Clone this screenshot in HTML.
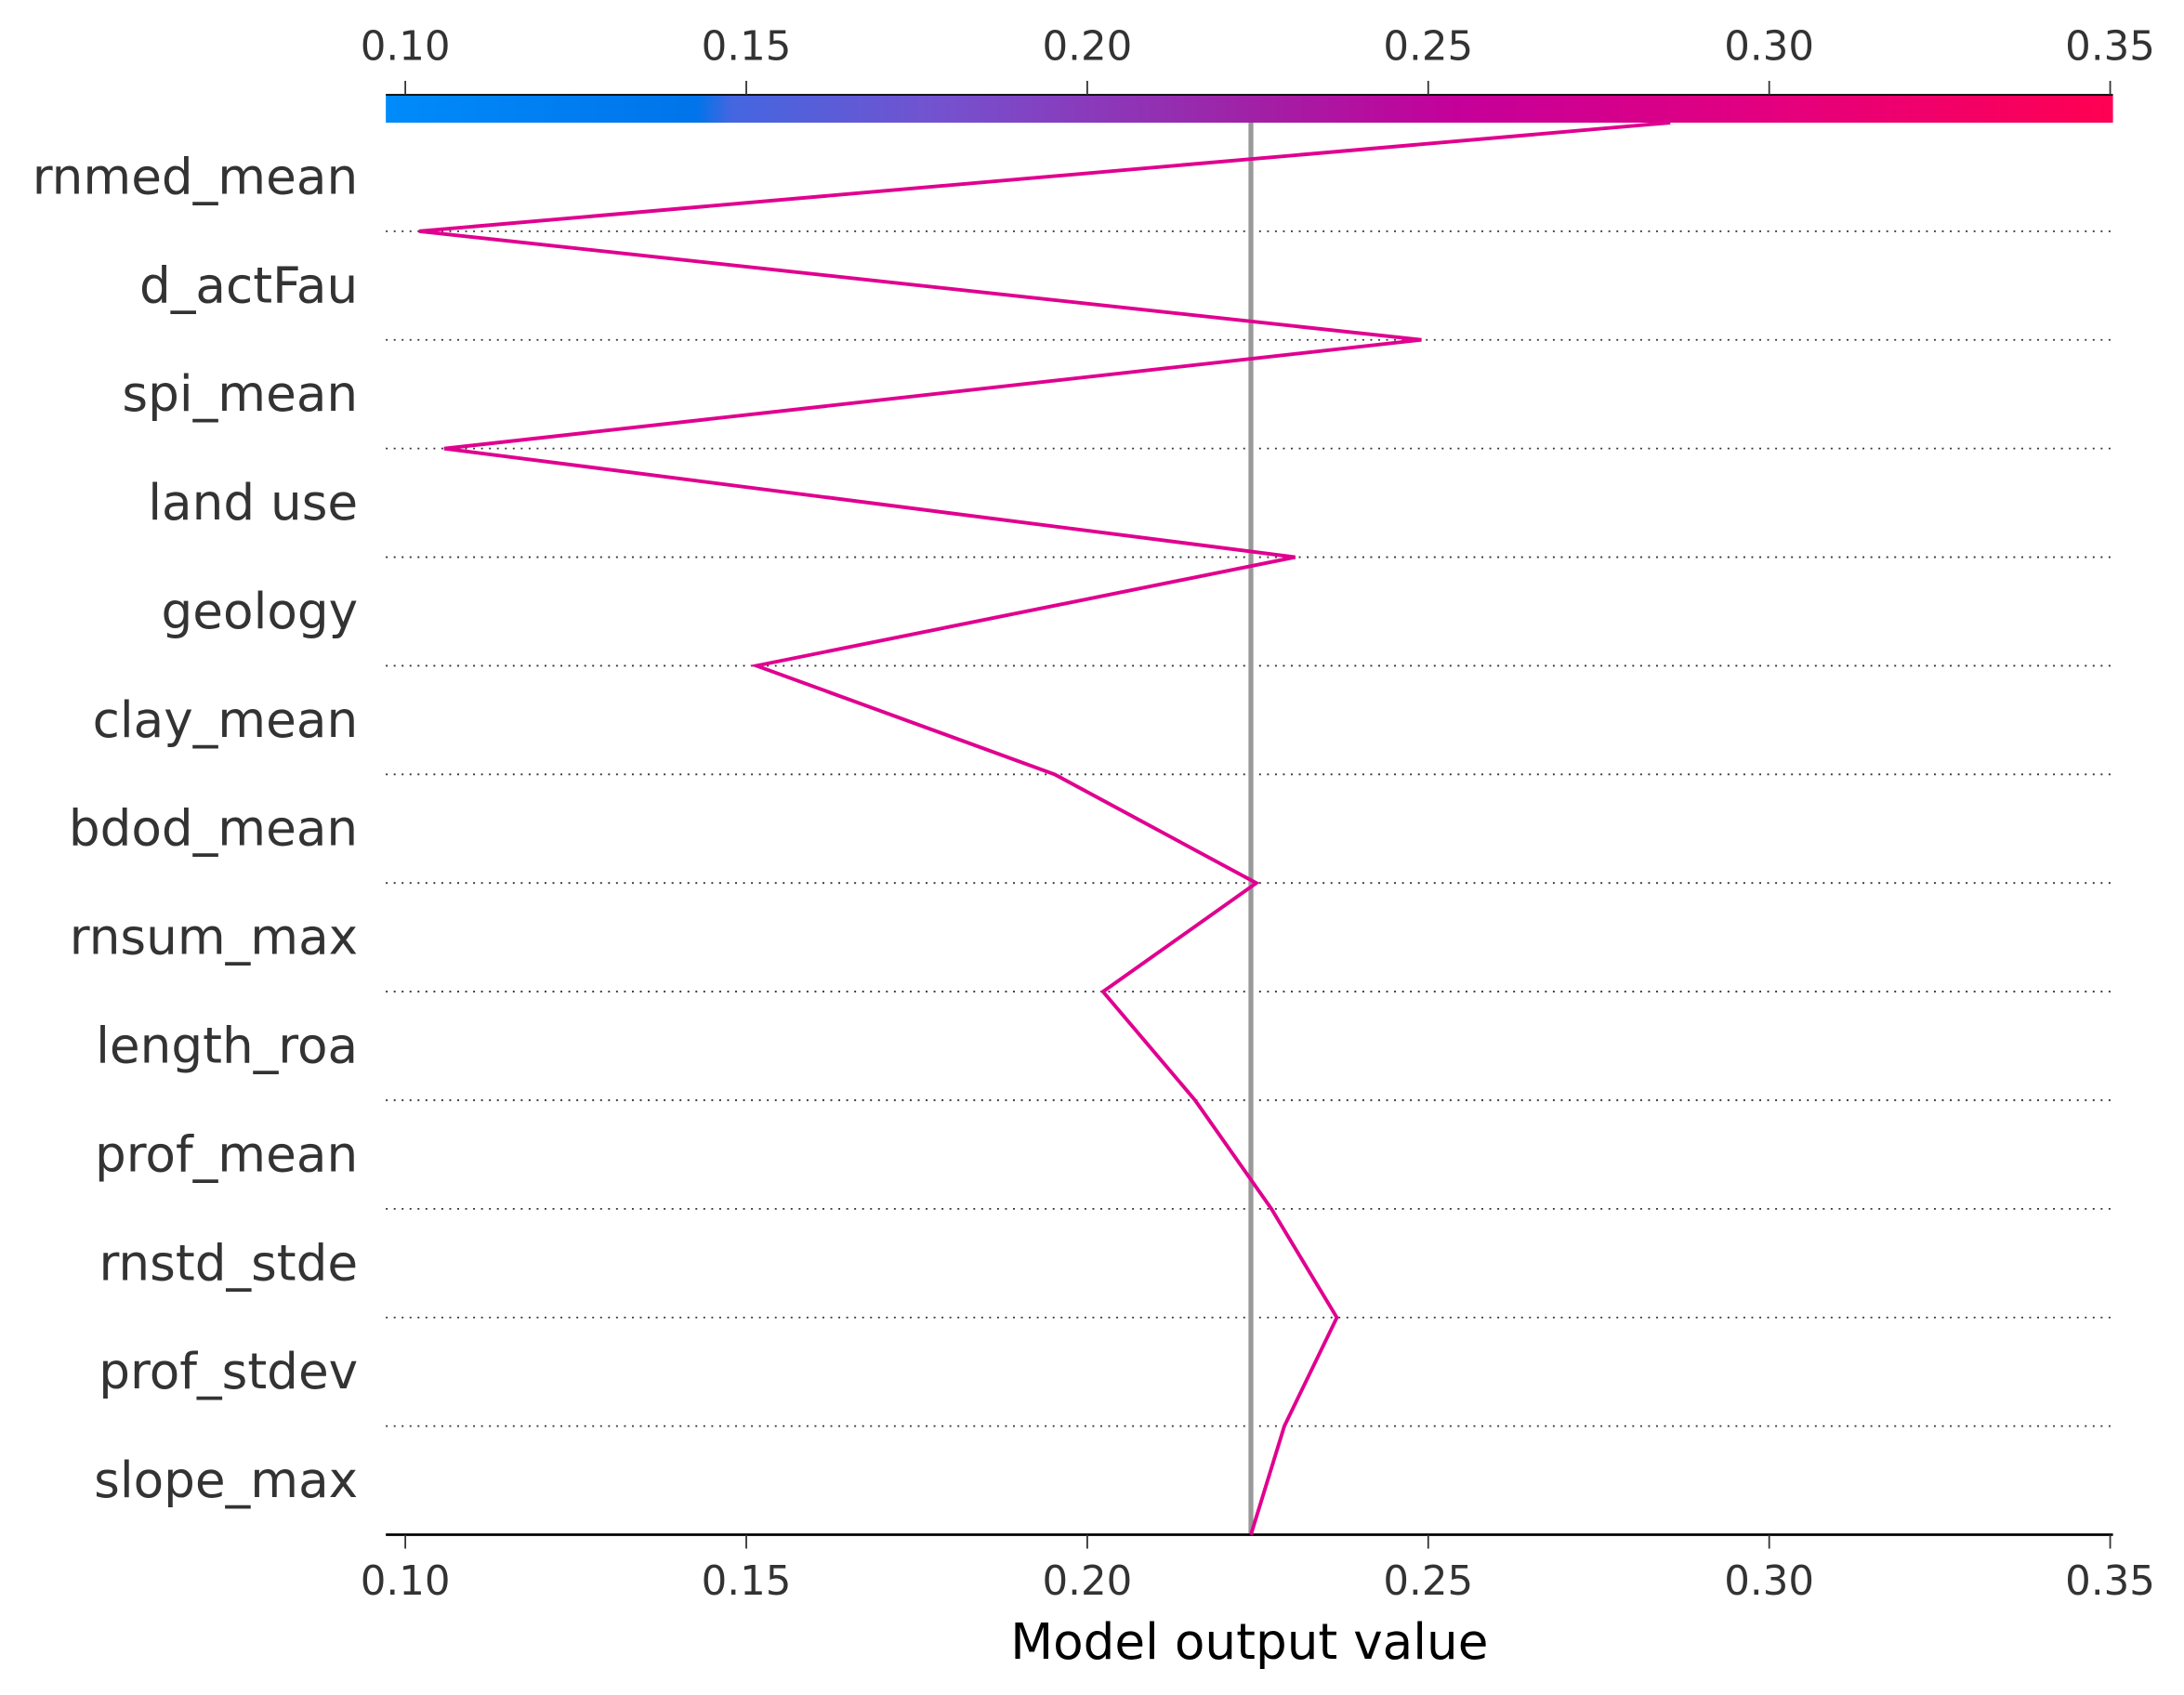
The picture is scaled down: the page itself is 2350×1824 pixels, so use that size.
<!DOCTYPE html>
<html><head><meta charset="utf-8"><style>
html,body{margin:0;padding:0;background:#fff;}
svg{display:block;font-family:"DejaVu Sans","Liberation Sans",sans-serif;}
</style></head><body>
<svg id="chart" width="2350" height="1824" viewBox="0 0 1568 1216" preserveAspectRatio="none" xmlns="http://www.w3.org/2000/svg">
<defs>
<linearGradient id="cg" x1="0" x2="1" y1="0" y2="0" gradientUnits="objectBoundingBox">
<stop offset="0" stop-color="#008bfa"/>
<stop offset="0.18" stop-color="#0074ea"/>
<stop offset="0.2" stop-color="#4466e0"/>
<stop offset="0.32" stop-color="#7452cf"/>
<stop offset="0.5" stop-color="#a021a6"/>
<stop offset="0.62" stop-color="#c5009a"/>
<stop offset="0.8" stop-color="#e3007f"/>
<stop offset="1" stop-color="#ff0052"/>
</linearGradient>
</defs>
<g id="root"></g>
</svg>
<script>
const features = ["rnmed_mean","d_actFau","spi_mean","land use","geology","clay_mean","bdod_mean","rnsum_max","length_roa","prof_mean","rnstd_stde","prof_stdev","slope_max"];
// cumulative model output at each row boundary, top to bottom (top = final prediction, bottom = base value)
const pathValues = [0.2855,0.102,0.249,0.1057,0.2305,0.1515,0.1952,0.2248,0.2023,0.2158,0.227,0.2366,0.2289,0.224];
const baseValue = 0.224;
const ticks = [0.10,0.15,0.20,0.25,0.30,0.35];
const tickLabels = ["0.10","0.15","0.20","0.25","0.30","0.35"];

const NS="http://www.w3.org/2000/svg";
const root=document.getElementById('root');
const X0=291, X1=1515, V0=0.10, V1=0.35;
const xs=v=>X0+(v-V0)*(X1-X0)/(V1-V0);
const yTop=88, yBot=1101;
const rowH=(yBot-yTop)/features.length;
const yb=i=>yTop+i*rowH;
function mk(t,a,txt){const e=document.createElementNS(NS,t);for(const k in a)e.setAttribute(k,a[k]);if(txt!==undefined)e.textContent=txt;root.appendChild(e);return e;}

// colorbar
let cb=mk('rect',{x:277,y:68,width:1240,height:20,fill:'url(#cg)'});


let tl=mk('line',{x1:277,x2:1517,y1:68,y2:68,stroke:'#000','stroke-width':1.2});



// gridlines
for(let i=1;i<features.length;i++){
  const g=mk('line',{x1:277,x2:1517,y1:yb(i),y2:yb(i),stroke:'#333','stroke-width':1.2,'stroke-dasharray':'1.3,4.4'});
  
  
}
// feature labels
features.forEach((f,i)=>{
  const t=mk('text',{x:257,y:yb(i)+rowH/2+12,'text-anchor':'end','font-size':35.5,fill:'#333'},f);
  
  
});
// base line
let bl=mk('line',{x1:xs(baseValue),x2:xs(baseValue),y1:88,y2:yBot,stroke:'#999','stroke-width':3.5});


// bottom axis
let ba=mk('line',{x1:277,x2:1517,y1:yBot,y2:yBot,stroke:'#000','stroke-width':1.8});


ticks.forEach((v,i)=>{
  const x=xs(v);
  const a=mk('line',{x1:x,x2:x,y1:yBot,y2:yBot+10,stroke:'#333','stroke-width':1.2});
  
  
  const b=mk('text',{x:x,y:yBot+43,'text-anchor':'middle','font-size':29,fill:'#333'},tickLabels[i]);
  
  
  const c=mk('line',{x1:x,x2:x,y1:58,y2:68,stroke:'#333','stroke-width':1.2});
  
  
  const d=mk('text',{x:x,y:43,'text-anchor':'middle','font-size':29,fill:'#333'},tickLabels[i]);
  
  
});
let xt=mk('text',{x:897,y:1190,'text-anchor':'middle','font-size':35.5,fill:'#000'},'Model output value');


// decision path
const pts=pathValues.map((v,i)=>xs(v).toFixed(1)+','+yb(i).toFixed(1)).join(' ');
let pl=mk('polyline',{points:pts,fill:'none',stroke:'#e0008f','stroke-width':2.6,'stroke-linejoin':'miter'});


</script>
</body></html>
